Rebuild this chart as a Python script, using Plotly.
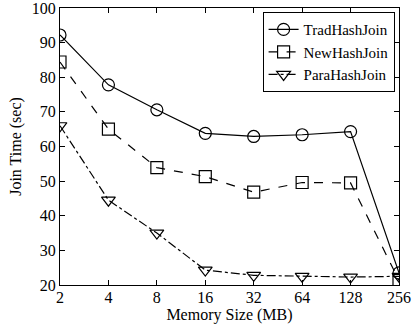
import plotly.graph_objects as go

memory_sizes = ["2", "4", "8", "16", "32", "64", "128", "256"]
trad_hash_join = [92.2, 77.8, 70.6, 63.8, 62.9, 63.4, 64.3, 23.5]
new_hash_join = [84.4, 65.0, 53.9, 51.3, 46.8, 49.6, 49.5, 21.3]
para_hash_join = [66.0, 44.5, 35.0, 24.3, 22.8, 22.5, 22.3, 22.5]
y_ticks = [20, 30, 40, 50, 60, 70, 80, 90, 100]

FONT = "Liberation Serif, Times New Roman, serif"

fig = go.Figure()
series = [
    ("TradHashJoin", trad_hash_join, "solid", "circle-open"),
    ("NewHashJoin", new_hash_join, "dash", "square-open"),
    ("ParaHashJoin", para_hash_join, "dashdot", "triangle-down-open"),
]
for name, vals, dash, sym in series:
    fig.add_trace(go.Scatter(
        x=list(range(len(memory_sizes))), y=vals, name=name,
        mode="lines+markers",
        line=dict(color="black", width=1.2, dash=dash),
        marker=dict(symbol=sym, size=12, color="black",
                    line=dict(color="black", width=1.2)),
    ))

axis_common = dict(
    showline=True, linecolor="black", linewidth=1, mirror="ticks",
    ticks="inside", ticklen=5, tickcolor="black", showgrid=False,
    zeroline=False, tickfont=dict(family=FONT, size=16, color="black"),
    ticklabeloverflow="allow",
)
fig.update_xaxes(
    range=[0, len(memory_sizes) - 1],
    tickmode="array", tickvals=list(range(len(memory_sizes))), ticktext=memory_sizes,
    title=dict(text="Memory Size (MB)", font=dict(family=FONT, size=16, color="black"), standoff=0),
    ticklabelstandoff=-2,
    **axis_common,
)
fig.update_yaxes(
    range=[20, 100], tickmode="array", tickvals=y_ticks,
    title=dict(text="Join Time (sec)", font=dict(family=FONT, size=16, color="black"), standoff=6),
    **axis_common,
)
fig.update_layout(
    width=414, height=326,
    margin=dict(l=60, r=15, t=8, b=41, autoexpand=False),
    paper_bgcolor="white", plot_bgcolor="white",
    legend=dict(
        x=0.987, y=0.985, xanchor="right", yanchor="top",
        bgcolor="white", bordercolor="black", borderwidth=1,
        font=dict(family=FONT, size=15, color="black"),
        itemwidth=30, tracegroupgap=0,
    ),
)
fig.write_html("out.html", config={"displayModeBar": False},
               post_script="document.body.style.margin='0';document.body.style.overflow='hidden';")
